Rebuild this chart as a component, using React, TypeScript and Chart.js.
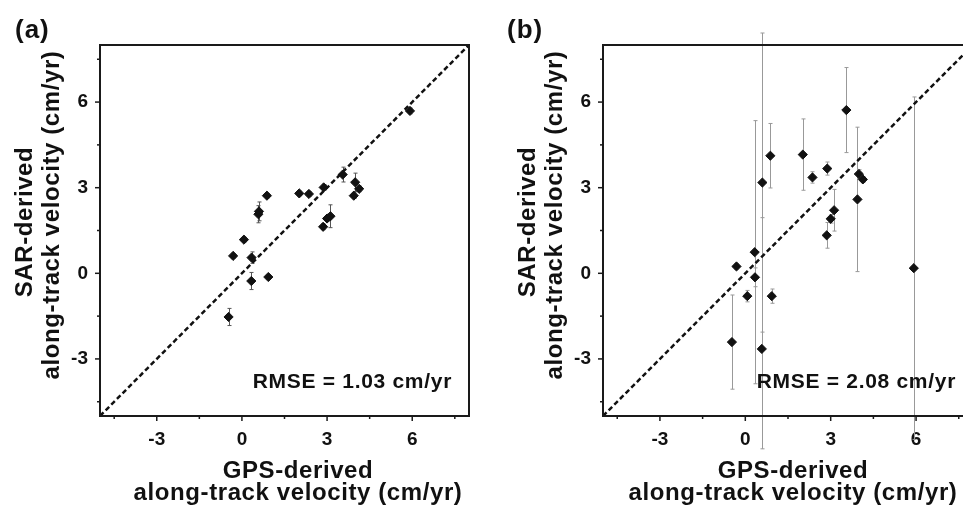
import React, { useEffect, useRef } from 'react';
import { Chart, registerables } from 'chart.js';

Chart.register(...registerables);

// GPS-derived along-track velocity (cm/yr), shared by both panels
const GPS_VEL = [-0.47, -0.31, 0.07, 0.33, 0.34, 0.58, 0.6, 0.88, 0.93, 2.02, 2.36, 2.86, 2.88, 3.0, 3.12, 3.55, 3.94, 3.99, 4.13, 5.92];

// Panel (a) SAR-derived velocity and symmetric error
const SAR_A = [-1.53, 0.61, 1.18, -0.27, 0.55, 2.07, 2.17, 2.72, -0.13, 2.8, 2.78, 1.63, 3.01, 1.92, 2.0, 3.46, 2.72, 3.19, 2.96, 5.69];
const ERR_A = [0.3, 0.08, 0.08, 0.3, 0.2, 0.3, 0.33, 0.08, 0.08, 0.08, 0.08, 0.1, 0.1, 0.1, 0.4, 0.26, 0.1, 0.32, 0.1, 0.1];

// Panel (b) SAR-derived velocity and error (lower / upper)
const SAR_B = [-2.41, 0.24, -0.8, 0.74, -0.14, -2.65, 3.18, 4.12, -0.8, 4.16, 3.36, 1.33, 3.67, 1.91, 2.21, 5.72, 2.59, 3.48, 3.29, 0.18];
const ERR_B_LOW = [1.65, 0.1, 0.2, 4.61, 0.33, 3.5, 5.24, 1.13, 0.25, 1.25, 0.2, 0.45, 0.23, 0.15, 0.73, 1.49, 2.53, 0.15, 0.1, 6.0];
const ERR_B_HIGH = [1.65, 0.1, 0.2, 4.61, 0.33, 4.6, 5.24, 1.13, 0.25, 1.25, 0.2, 0.45, 0.23, 0.15, 0.73, 1.49, 2.53, 0.15, 0.1, 6.0];

const AXIS_MIN = -5;
const AXIS_MAX = 8;
const MAJOR_TICKS = [-3, 0, 3, 6];
const MINOR_TICKS = [-4.5, -1.5, 1.5, 4.5, 7.5];
const ONE_TO_ONE = [-5, 8];

const FONT = '"Liberation Sans", Arial, Helvetica, sans-serif';

const panelPlugin: any = {
  id: 'panelDecor',
  beforeDatasetsDraw(chart: any) {
    const { ctx, scales } = chart;
    const xs = scales.x;
    const ys = scales.y;
    chart.data.datasets.forEach((ds: any) => {
      if (!ds.errLow) return;
      ctx.save();
      ctx.strokeStyle = ds.errColor;
      ctx.lineWidth = 1;
      ds.data.forEach((p: any, i: number) => {
        const px = Math.round(xs.getPixelForValue(p.x)) + 0.5;
        const yTop = ys.getPixelForValue(p.y + ds.errHigh[i]);
        const yBot = ys.getPixelForValue(p.y - ds.errLow[i]);
        ctx.beginPath();
        ctx.moveTo(px, yTop);
        ctx.lineTo(px, yBot);
        ctx.moveTo(px - 2, yTop);
        ctx.lineTo(px + 2, yTop);
        ctx.moveTo(px - 2, yBot);
        ctx.lineTo(px + 2, yBot);
        ctx.stroke();
      });
      ctx.restore();
    });
  },
  afterDraw(chart: any, _args: any, opts: any) {
    const { ctx, chartArea, scales } = chart;
    const { left, right, top, bottom } = chartArea;
    const xs = scales.x;
    const ys = scales.y;
    ctx.save();
    // frame
    ctx.strokeStyle = '#1a1a1a';
    ctx.lineWidth = 2;
    ctx.strokeRect(left, top, right - left, bottom - top);
    // tick marks
    ctx.lineWidth = 1.5;
    const drawTicks = (vals: number[], len: number) => {
      vals.forEach((v) => {
        const px = xs.getPixelForValue(v);
        ctx.beginPath();
        ctx.moveTo(px, bottom);
        ctx.lineTo(px, bottom + len);
        ctx.stroke();
        const py = ys.getPixelForValue(v);
        ctx.beginPath();
        ctx.moveTo(left, py);
        ctx.lineTo(left - len, py);
        ctx.stroke();
      });
    };
    drawTicks(MAJOR_TICKS, 5);
    drawTicks(MINOR_TICKS, 3);

    ctx.fillStyle = '#111';
    // panel label
    ctx.letterSpacing = '1px';
    ctx.font = `bold 26px ${FONT}`;
    ctx.textAlign = 'left';
    ctx.textBaseline = 'alphabetic';
    ctx.fillText(opts.label, opts.labelX, 38);

    // RMSE
    ctx.letterSpacing = '0.7px';
    ctx.font = `bold 21px ${FONT}`;
    ctx.textAlign = 'right';
    ctx.fillText(opts.rmse, right - 17, 388);

    // x title
    ctx.letterSpacing = '0.6px';
    ctx.font = `bold 24px ${FONT}`;
    ctx.textAlign = 'center';
    const xc = left + opts.xTitleOffset;
    ctx.fillText('GPS-derived', xc, 478);
    ctx.fillText('along-track velocity (cm/yr)', xc, 500);

    // y title
    const drawRot = (text: string, x: number, y: number) => {
      ctx.save();
      ctx.translate(x, y);
      ctx.rotate(-Math.PI / 2);
      ctx.fillText(text, 0, 0);
      ctx.restore();
    };
    drawRot('SAR-derived', left - 68, 222);
    drawRot('along-track velocity (cm/yr)', left - 41, 215);
    ctx.restore();
  },
};

function makeConfig(sar: number[], errLow: number[], errHigh: number[], errColor: string, yAxisWidth: number, padRight: number, decor: any): any {
  const points = GPS_VEL.map((x, i) => ({ x, y: sar[i] }));
  const line = ONE_TO_ONE.map((v) => ({ x: v, y: v }));
  const tickFont = { family: FONT, size: 19, weight: 'bold' as const };
  return {
    type: 'scatter',
    data: {
      datasets: [
        {
          type: 'scatter',
          data: points,
          order: 0,
          pointStyle: 'rectRot',
          pointRadius: 4.6,
          pointBorderWidth: 1,
          backgroundColor: '#111',
          borderColor: '#111',
          errLow,
          errHigh,
          errColor,
          clip: false,
        },
        {
          type: 'line',
          data: line,
          order: 1,
          borderColor: '#111',
          borderWidth: 2.5,
          borderDash: [5, 3],
          pointRadius: 0,
          fill: false,
          clip: false,
        },
      ],
    },
    options: {
      responsive: false,
      animation: false,
      events: [],
      layout: { padding: { left: 0, right: padRight, top: 45, bottom: 0 } },
      plugins: {
        legend: { display: false },
        tooltip: { enabled: false },
        panelDecor: decor,
      },
      scales: {
        x: {
          type: 'linear',
          min: AXIS_MIN,
          max: AXIS_MAX,
          afterBuildTicks: (s: any) => {
            s.ticks = MAJOR_TICKS.map((v) => ({ value: v }));
          },
          afterFit: (s: any) => {
            s.height = 92;
          },
          grid: { display: false, drawTicks: false },
          border: { display: false },
          ticks: { font: tickFont, color: '#111', padding: 12, maxRotation: 0, autoSkip: false, callback: (v: any) => String(v) },
        },
        y: {
          type: 'linear',
          min: AXIS_MIN,
          max: AXIS_MAX,
          afterBuildTicks: (s: any) => {
            s.ticks = MAJOR_TICKS.map((v) => ({ value: v }));
          },
          afterFit: (s: any) => {
            s.width = yAxisWidth;
          },
          grid: { display: false, drawTicks: false },
          border: { display: false },
          ticks: { font: tickFont, color: '#111', padding: 12, autoSkip: false, callback: (v: any) => String(v) },
        },
      },
    },
    plugins: [panelPlugin],
  };
}

export default function App() {
  const refA = useRef<HTMLCanvasElement>(null);
  const refB = useRef<HTMLCanvasElement>(null);
  useEffect(() => {
    const a = new Chart(
      refA.current as HTMLCanvasElement,
      makeConfig(SAR_A, ERR_A, ERR_A, '#555', 100, 26, { label: '(a)', labelX: 15, rmse: 'RMSE = 1.03 cm/yr', xTitleOffset: 198 })
    );
    const b = new Chart(
      refB.current as HTMLCanvasElement,
      makeConfig(SAR_B, ERR_B_LOW, ERR_B_HIGH, '#999', 108, 22, { label: '(b)', labelX: 12, rmse: 'RMSE = 2.08 cm/yr', xTitleOffset: 190 })
    );
    return () => {
      a.destroy();
      b.destroy();
    };
  }, []);
  return (
    <div style={{ position: 'fixed', left: 0, top: 0, width: 963, height: 508, overflow: 'hidden', background: '#fff' }}>
      <canvas ref={refA} width={495} height={508} style={{ position: 'absolute', left: 0, top: 0 }} />
      <canvas ref={refB} width={500} height={508} style={{ position: 'absolute', left: 495, top: 0 }} />
    </div>
  );
}
